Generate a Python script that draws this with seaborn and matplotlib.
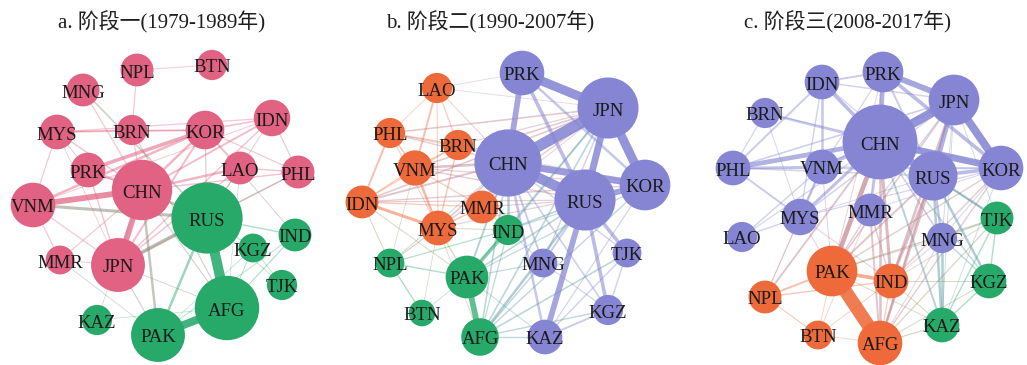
import numpy as np
import pandas as pd
import matplotlib
matplotlib.use("Agg")
import matplotlib.pyplot as plt
from matplotlib.collections import LineCollection
from matplotlib.colors import to_rgb
import seaborn as sns

# ---------------------------------------------------------------- data
TITLES = ["a. 阶段一(1979-1989年)", "b. 阶段二(1990-2007年)", "c. 阶段三(2008-2017年)"]

# Stage 1 (1979-1989): node layout, community and weighted degree
A_NODES = ["NPL", "BTN", "MNG", "IDN", "MYS", "BRN", "KOR", "PRK", "LAO", "PHL", "CHN",
           "VNM", "RUS", "IND", "KGZ", "MMR", "JPN", "TJK", "AFG", "KAZ", "PAK"]
A_X = [137, 212, 83, 272, 57, 132, 205, 88, 240, 298, 142, 33, 207, 295, 253, 60, 118, 282, 227, 97, 158]
A_Y = [70, 65, 90, 118, 132, 130, 130, 170, 168, 172, 190, 205, 218, 235, 248, 260, 265, 285, 308, 320, 335]
A_COMM = ["pink"] * 12 + ["green", "green", "green", "pink", "pink", "green", "green", "green", "green"]
A_STRENGTH = [26, 22, 26, 32, 29, 22, 36, 29, 26, 26, 88, 48, 122, 26, 20, 20, 70, 22, 100, 22, 70]
A_EDGES = [
    ("VNM", "CHN", 5), ("CHN", "JPN", 5), ("PRK", "KOR", 3), ("CHN", "KOR", 2), ("CHN", "PRK", 2),
    ("VNM", "KOR", 2), ("CHN", "LAO", 2), ("CHN", "IDN", 1.5), ("CHN", "PHL", 1), ("KOR", "IDN", 1.2),
    ("MYS", "BRN", 1), ("MYS", "KOR", 1.2), ("BRN", "KOR", 1), ("MYS", "IDN", 0.8), ("IDN", "PHL", 0.8),
    ("LAO", "PHL", 1), ("KOR", "PHL", 0.8), ("KOR", "LAO", 1), ("KOR", "JPN", 1.5), ("JPN", "IDN", 1),
    ("JPN", "LAO", 1), ("PRK", "JPN", 1), ("MYS", "VNM", 0.8), ("MYS", "CHN", 1), ("MYS", "PRK", 0.6),
    ("VNM", "MMR", 0.8), ("VNM", "JPN", 0.8), ("MMR", "CHN", 0.8), ("MMR", "JPN", 0.6), ("NPL", "BRN", 0.8),
    ("NPL", "BTN", 0.6), ("MNG", "CHN", 0.8), ("BRN", "CHN", 0.8), ("PHL", "JPN", 0.6), ("IDN", "VNM", 0.6),
    ("MYS", "JPN", 0.5), ("VNM", "RUS", 2.5), ("JPN", "RUS", 3), ("CHN", "RUS", 2), ("CHN", "PAK", 2),
    ("MNG", "RUS", 1.2), ("BRN", "AFG", 0.8), ("JPN", "PAK", 0.8), ("JPN", "AFG", 0.6), ("PHL", "RUS", 1),
    ("LAO", "RUS", 0.8), ("IDN", "RUS", 0.6), ("KOR", "RUS", 0.8), ("PRK", "RUS", 0.6), ("MMR", "PAK", 0.5),
    ("KAZ", "CHN", 0.4), ("CHN", "AFG", 0.8), ("KOR", "IND", 0.6), ("LAO", "AFG", 0.4),
    ("RUS", "AFG", 9), ("PAK", "AFG", 7), ("RUS", "PAK", 2), ("RUS", "IND", 1), ("RUS", "KGZ", 0.8),
    ("AFG", "IND", 0.8), ("AFG", "KGZ", 0.6), ("PAK", "IND", 0.6), ("TJK", "KGZ", 0.5), ("PAK", "KGZ", 0.4),
    ("KAZ", "AFG", 0.4), ("TJK", "RUS", 0.5),
]

# Stage 2 (1990-2007)
B_NODES = ["PRK", "JPN", "LAO", "PHL", "BRN", "CHN", "VNM", "KOR", "IDN", "RUS", "MMR",
           "MYS", "IND", "NPL", "MNG", "TJK", "PAK", "BTN", "KGZ", "AFG", "KAZ"]
B_X = [180, 266, 95, 48, 116, 166, 73, 303, 20, 243, 140, 96, 166, 48, 201, 285, 125, 80, 266, 138, 203]
B_Y = [73, 108, 88, 133, 145, 163, 168, 185, 202, 200, 207, 228, 230, 263, 263, 253, 277, 313, 310, 337, 337]
B_COMM = ["purple", "purple", "orange", "orange", "orange", "purple", "orange", "purple", "orange", "purple",
          "orange", "orange", "green", "green", "purple", "purple", "green", "green", "purple", "green", "purple"]
B_STRENGTH = [48, 90, 22, 22, 22, 109, 30, 62, 26, 90, 26, 29, 22, 20, 20, 20, 44, 17, 22, 34, 29]
B_EDGES = [
    ("CHN", "JPN", 10), ("CHN", "RUS", 9), ("JPN", "KOR", 8), ("PRK", "JPN", 8), ("JPN", "RUS", 6),
    ("CHN", "KOR", 6), ("PRK", "CHN", 5), ("RUS", "KOR", 5), ("PRK", "RUS", 3), ("PRK", "KOR", 2),
    ("RUS", "KAZ", 5), ("RUS", "TJK", 3), ("RUS", "KGZ", 3), ("CHN", "KAZ", 2), ("CHN", "MNG", 1.5),
    ("RUS", "MNG", 1.5), ("CHN", "KGZ", 1.2), ("KAZ", "KGZ", 1.5), ("TJK", "KGZ", 1), ("TJK", "KAZ", 1),
    ("JPN", "MNG", 1), ("CHN", "TJK", 1), ("KOR", "KAZ", 0.8), ("MNG", "KGZ", 0.8),
    ("LAO", "VNM", 1.5), ("PHL", "IDN", 1.5), ("IDN", "MYS", 2.5), ("VNM", "MYS", 2), ("PHL", "VNM", 1.2),
    ("BRN", "MYS", 1), ("IDN", "VNM", 1), ("MMR", "MYS", 1), ("LAO", "BRN", 0.8), ("PHL", "BRN", 1),
    ("VNM", "MMR", 0.8), ("LAO", "MYS", 0.6), ("VNM", "BRN", 1), ("IDN", "BRN", 0.6), ("PHL", "MYS", 0.6),
    ("IDN", "MMR", 0.8), ("LAO", "PHL", 0.5),
    ("PHL", "JPN", 1.2), ("PHL", "CHN", 1), ("VNM", "CHN", 2), ("VNM", "JPN", 1.2), ("IDN", "CHN", 1.5),
    ("IDN", "JPN", 1.2), ("IDN", "KOR", 1), ("MYS", "CHN", 1.2), ("MYS", "JPN", 1), ("MMR", "CHN", 1.2),
    ("BRN", "JPN", 0.8), ("BRN", "CHN", 1), ("MMR", "RUS", 0.8), ("IDN", "RUS", 0.8), ("VNM", "RUS", 1),
    ("MYS", "KOR", 0.8), ("LAO", "CHN", 0.6), ("LAO", "JPN", 0.4), ("LAO", "PRK", 0.4), ("VNM", "KOR", 0.8),
    ("MMR", "JPN", 0.6), ("PHL", "KOR", 0.6),
    ("PAK", "AFG", 5), ("PAK", "IND", 3), ("NPL", "PAK", 1), ("NPL", "BTN", 1), ("NPL", "IND", 0.8),
    ("BTN", "PAK", 0.4), ("IND", "AFG", 0.8),
    ("IND", "CHN", 2), ("AFG", "RUS", 2), ("AFG", "JPN", 1.2), ("AFG", "CHN", 1.2), ("AFG", "KOR", 1),
    ("AFG", "TJK", 1.2), ("AFG", "KGZ", 1), ("AFG", "MNG", 1), ("AFG", "KAZ", 1), ("PAK", "CHN", 1.5),
    ("PAK", "RUS", 1.2), ("PAK", "JPN", 1), ("PAK", "KOR", 0.8), ("IND", "RUS", 1.2), ("IND", "JPN", 1.2),
    ("IND", "KOR", 0.8), ("NPL", "CHN", 0.6), ("PAK", "MNG", 0.8), ("IND", "MNG", 0.6), ("PAK", "KAZ", 0.6),
    ("NPL", "MYS", 0.8), ("PAK", "MYS", 0.8), ("NPL", "IDN", 0.6), ("IND", "MYS", 0.6), ("PAK", "IDN", 0.6),
    ("NPL", "VNM", 0.4), ("BTN", "MYS", 0.4), ("AFG", "MYS", 0.5), ("IND", "MMR", 0.6),
]

# Stage 3 (2008-2017)
C_NODES = ["IDN", "PRK", "JPN", "BRN", "CHN", "PHL", "VNM", "RUS", "KOR", "MYS", "MMR",
           "LAO", "MNG", "TJK", "PAK", "IND", "NPL", "KGZ", "KAZ", "BTN", "AFG"]
C_X = [137, 198, 269, 80, 195, 48, 137, 248, 316, 115, 185, 57, 257, 312, 147, 206, 80, 304, 257, 133, 195]
C_Y = [82, 72, 100, 113, 142, 168, 167, 176, 168, 217, 210, 237, 238, 218, 271, 281, 297, 281, 325, 335, 343]
C_COMM = ["purple"] * 13 + ["green", "orange", "orange", "orange", "green", "green", "orange", "orange"]
C_STRENGTH = [29, 40, 62, 22, 135, 29, 29, 58, 48, 32, 26, 22, 22, 26, 62, 29, 26, 29, 29, 20, 48]
C_EDGES = [
    ("CHN", "JPN", 8), ("CHN", "KOR", 6), ("CHN", "RUS", 6), ("CHN", "PRK", 4), ("JPN", "KOR", 7),
    ("PRK", "JPN", 5), ("PRK", "KOR", 3), ("JPN", "RUS", 4), ("RUS", "KOR", 3), ("CHN", "PHL", 4),
    ("CHN", "VNM", 3), ("CHN", "IDN", 3), ("CHN", "BRN", 2), ("CHN", "MYS", 2.5), ("PHL", "VNM", 2),
    ("PHL", "IDN", 1.5), ("PHL", "MYS", 1.5), ("IDN", "VNM", 2), ("IDN", "PRK", 1.5), ("IDN", "MYS", 1),
    ("VNM", "MYS", 2), ("LAO", "MYS", 1), ("LAO", "VNM", 1), ("BRN", "PHL", 0.8), ("BRN", "MYS", 0.6),
    ("CHN", "MMR", 2), ("RUS", "MNG", 2), ("CHN", "MNG", 1.2), ("PHL", "JPN", 1.2), ("PHL", "RUS", 1),
    ("PHL", "KOR", 1), ("IDN", "JPN", 1), ("VNM", "JPN", 1), ("VNM", "KOR", 1), ("MYS", "JPN", 1),
    ("MYS", "KOR", 0.8), ("MMR", "JPN", 0.8), ("MMR", "KOR", 0.6), ("PRK", "RUS", 1.5), ("IDN", "RUS", 0.8),
    ("LAO", "CHN", 0.8), ("BRN", "KOR", 0.6), ("MYS", "RUS", 0.6), ("PRK", "VNM", 0.8), ("PRK", "MMR", 0.8),
    ("MNG", "JPN", 0.6), ("MNG", "KOR", 0.6),
    ("PAK", "AFG", 12), ("PAK", "IND", 3), ("NPL", "PAK", 1.5), ("NPL", "IND", 1), ("NPL", "BTN", 0.7),
    ("BTN", "PAK", 0.5), ("IND", "AFG", 0.8), ("BTN", "AFG", 0.5), ("BTN", "IND", 0.5),
    ("PAK", "CHN", 4), ("IND", "CHN", 2.5), ("IND", "RUS", 2), ("AFG", "CHN", 2), ("AFG", "RUS", 2),
    ("AFG", "JPN", 1.5), ("NPL", "CHN", 1.5), ("PAK", "RUS", 1.5), ("PAK", "JPN", 1.2), ("IND", "JPN", 2),
    ("AFG", "KOR", 1), ("IND", "KOR", 1), ("PAK", "KOR", 1), ("PAK", "MMR", 1), ("IND", "MMR", 1),
    ("AFG", "MMR", 1.5), ("BTN", "MMR", 0.5), ("NPL", "MYS", 0.6), ("NPL", "VNM", 0.5), ("PAK", "MYS", 0.6),
    ("IND", "MYS", 0.6), ("PAK", "VNM", 0.6), ("PAK", "MNG", 0.6), ("IND", "MNG", 0.6), ("AFG", "MNG", 0.6),
    ("PAK", "PRK", 0.6),
    ("TJK", "KGZ", 1), ("KAZ", "KGZ", 1), ("TJK", "KAZ", 1),
    ("RUS", "TJK", 2), ("RUS", "KGZ", 2), ("RUS", "KAZ", 2), ("MNG", "KAZ", 2), ("CHN", "KAZ", 1.5),
    ("CHN", "KGZ", 1), ("MNG", "KGZ", 1), ("CHN", "TJK", 0.8), ("MNG", "TJK", 0.8), ("KOR", "KAZ", 0.5),
    ("JPN", "KAZ", 0.5), ("JPN", "TJK", 0.5),
    ("PAK", "TJK", 1), ("AFG", "TJK", 0.8), ("AFG", "KAZ", 0.8), ("AFG", "KGZ", 0.6), ("IND", "KAZ", 0.6),
    ("IND", "KGZ", 0.6), ("IND", "TJK", 0.5), ("PAK", "KAZ", 0.5),
]

# ---------------------------------------------------------------- style
PALETTE = {"pink": "#E16282", "green": "#27A96A", "purple": "#8585D3", "orange": "#EE6A3A"}
FIG_W, FIG_H = 1027, 365
PANEL_W = [342, 343, 342]
TITLE_X = [162, 148, 162]
STRENGTH_MAX = 140
AREA_PER_UNIT = 21.5  # marker area (pt^2) per unit of weighted degree

sns.set_theme(style="white")
plt.rcParams["font.family"] = ["Liberation Serif", "Noto Sans CJK SC", "DejaVu Sans"]


def draw_network(ax, nodes, xs, ys, comms, strength, edges, title, width, title_x):
    df = pd.DataFrame({"node": nodes, "x": xs, "y": ys, "community": comms, "strength": strength})
    pos = df.set_index("node")[["x", "y"]]
    col = df.set_index("node")["community"].map(PALETTE)

    # edges: colour is the mix of both end communities, width follows the weight
    segs, colors, widths = [], [], []
    for s, t, w in sorted(edges, key=lambda e: e[2]):
        rgb = (np.array(to_rgb(col[s])) + np.array(to_rgb(col[t]))) / 2
        alpha = min(0.88, 0.28 + 0.09 * w)
        segs.append([pos.loc[s].to_numpy(float), pos.loc[t].to_numpy(float)])
        colors.append((*rgb, alpha))
        widths.append(0.25 + 0.78 * w)
    ax.add_collection(LineCollection(segs, colors=colors, linewidths=widths,
                                     capstyle="butt", zorder=1))

    sns.scatterplot(data=df, x="x", y="y", hue="community", palette=PALETTE,
                    size="strength", sizes=(0, AREA_PER_UNIT * STRENGTH_MAX),
                    size_norm=(0, STRENGTH_MAX), linewidth=0, alpha=1.0,
                    legend=False, ax=ax, zorder=3)

    for _, r in df.iterrows():
        ax.text(r.x, r.y + 1, r.node, ha="center", va="center_baseline", fontsize=13.5,
                color="#1a1a1a", zorder=4)

    ax.text(title_x, 22, title, ha="center", va="center", fontsize=15, color="#1e1e1e")
    ax.set_xlim(0, width)
    ax.set_ylim(FIG_H, 0)
    ax.set_axis_off()


fig = plt.figure(figsize=(FIG_W / 100, FIG_H / 100), dpi=100)
panels = [
    (A_NODES, A_X, A_Y, A_COMM, A_STRENGTH, A_EDGES),
    (B_NODES, B_X, B_Y, B_COMM, B_STRENGTH, B_EDGES),
    (C_NODES, C_X, C_Y, C_COMM, C_STRENGTH, C_EDGES),
]
left = 0
for i, data in enumerate(panels):
    ax = fig.add_axes([left / FIG_W, 0, PANEL_W[i] / FIG_W, 1])
    draw_network(ax, *data, TITLES[i], PANEL_W[i], TITLE_X[i])
    left += PANEL_W[i]

fig.savefig("out.png", dpi=100, facecolor="white")
